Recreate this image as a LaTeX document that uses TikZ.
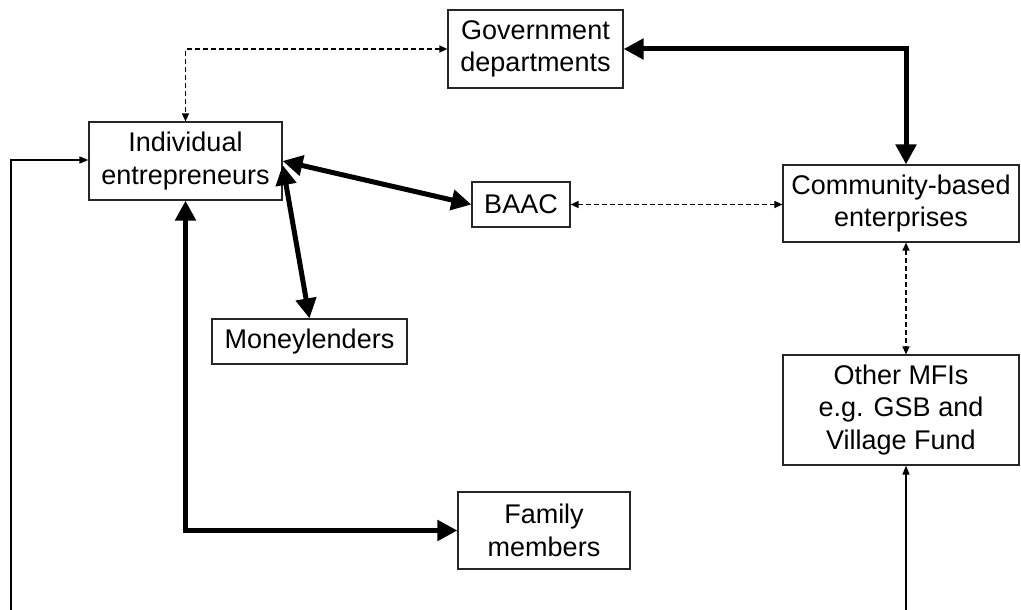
\documentclass[tikz,border=0pt]{standalone}
\usepackage{fontspec}
\setmainfont{Liberation Sans}
\usetikzlibrary{arrows.meta,calc}
\begin{document}
\begin{tikzpicture}[x=1pt,y=-1pt,
  box/.style={draw=black!85,line width=1.2pt,inner sep=0pt,align=center,
    font=\fontsize{27}{32.5}\selectfont},
  heavy/.style={line width=5pt,{Triangle[length=20pt,width=20pt]}-{Triangle[length=20pt,width=20pt]}},
  dotted link/.style={line width=1.3pt,dash pattern=on 5pt off 3pt,
    {Triangle[length=8pt,width=7pt]}-{Triangle[length=8pt,width=7pt]}},
  feed/.style={line width=1.3pt,-{Triangle[length=9pt,width=7pt]}}]
\useasboundingbox (0,0) rectangle (1021,610);

% boxes
\node[box,minimum width=175pt,minimum height=78pt] (gov) at (535.5,49) {Government\\departments};
\node[box,minimum width=193pt,minimum height=78pt] (ind) at (185.5,161) {Individual\\entrepreneurs};
\node[box,minimum width=98pt,minimum height=45pt] (baac) at (521,204.5) {BAAC};
\node[box,minimum width=236pt,minimum height=77pt] (cbe) at (901,203.5) {Community-based\\enterprises};
\node[box,minimum width=195pt,minimum height=45pt] (money) at (309.5,341.5) {Moneylenders};
\node[box,minimum width=172pt,minimum height=77pt] (fam) at (544,530.5) {Family\\members};
\node[box,minimum width=236pt,minimum height=110pt] (mfi) at (901,410) {Other MFIs\\e.g. GSB and\\Village Fund};

% free ends at the lower edge
\coordinate (lb) at (11,612);
\coordinate (rb) at (906,612);

% strong links
\draw[heavy] (gov.east) -| ($(cbe.north)+(5,0)$);
\draw[heavy] (ind.east) -- (baac.west);
\draw[heavy] ($(ind.east)+(0,4)$) -- (money.north);
\draw[heavy] (ind.south) |- (fam.west);

% weak links
\draw[dotted link] (gov.west) -| (ind.north);
\draw[dotted link] (baac.east) -- (baac.east -| cbe.west);
\draw[dotted link] ($(cbe.south)+(5,0)$) -- ($(mfi.north)+(5,0)$);

% feedback lines
\draw[feed] (lb) |- ($(ind.west)+(0,-1)$);
\draw[feed] (rb) -- ($(mfi.south)+(5,0)$);
\end{tikzpicture}
\end{document}
